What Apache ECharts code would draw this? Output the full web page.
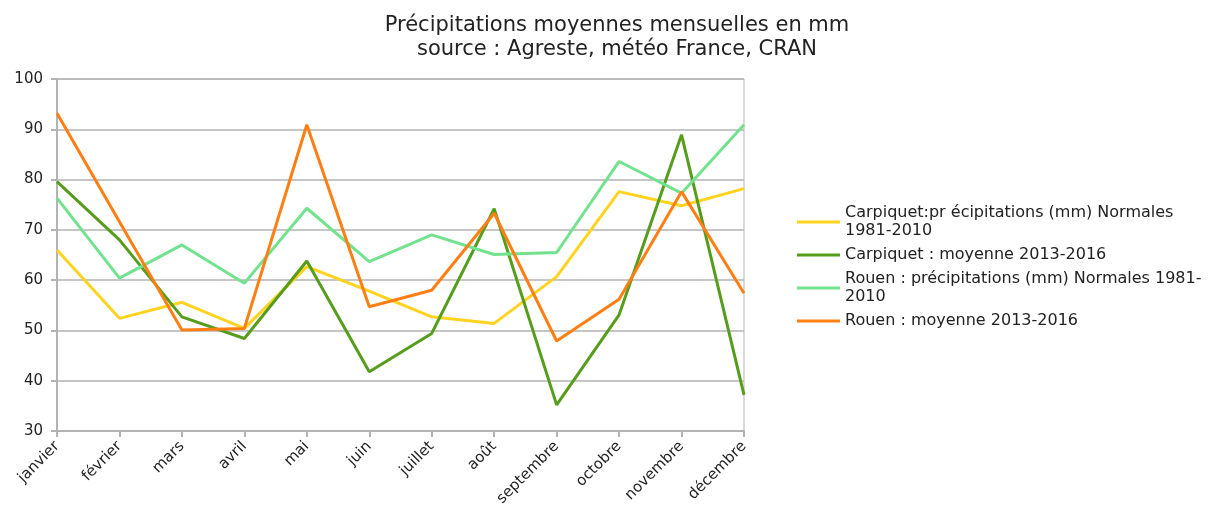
<!DOCTYPE html>
<html>
<head>
<meta charset="utf-8">
<script src="https://cdn.jsdelivr.net/npm/echarts@6/dist/echarts.min.js"></script>
<style>
html,body{margin:0;padding:0;background:#fff;}
#chart{width:1208px;height:513px;}
</style>
</head>
<body>
<div id="chart"></div>
<script>
var mois = ['janvier', 'février', 'mars', 'avril', 'mai', 'juin', 'juillet', 'août', 'septembre', 'octobre', 'novembre', 'décembre'];

// valeurs (mm)
var carpiquetNormales = [66, 52.4, 55.6, 50.4, 62.7, 57.8, 52.7, 51.4, 60.7, 77.6, 74.8, 78.2];
var carpiquetMoyenne = [79.6, 68, 52.7, 48.4, 63.8, 41.8, 49.4, 74.2, 35.2, 53.1, 88.9, 37.2];
var rouenNormales = [76.3, 60.4, 67, 59.4, 74.3, 63.7, 69, 65.1, 65.5, 83.6, 77.3, 90.9];
var rouenMoyenne = [93.2, 71.6, 50.1, 50.4, 90.9, 54.7, 58, 73.3, 47.9, 56.2, 77.6, 57.4];

var noms = [
    'Carpiquet:pr écipitations (mm) Normales 1981-2010',
    'Carpiquet : moyenne 2013-2016',
    'Rouen : précipitations (mm) Normales 1981-2010',
    'Rouen : moyenne 2013-2016'
];
// texte de légende avec retour à la ligne
var libelles = {};
libelles[noms[0]] = 'Carpiquet:pr écipitations (mm) Normales\n1981-2010';
libelles[noms[1]] = 'Carpiquet : moyenne 2013-2016';
libelles[noms[2]] = 'Rouen : précipitations (mm) Normales 1981-\n2010';
libelles[noms[3]] = 'Rouen : moyenne 2013-2016';

var couleurs = ['#ffd320', '#579d1c', '#72e28e', '#ff7f14'];

var myChart = echarts.init(document.getElementById('chart'));

function serie(nom, data, couleur) {
    return {
        name: nom,
        type: 'line',
        symbol: 'none',
        smooth: false,
        lineStyle: { color: couleur, width: 3 },
        itemStyle: { color: couleur },
        data: data
    };
}

var option = {
    animation: false,
    textStyle: { fontFamily: 'DejaVu Sans' },
    title: {
        text: 'Précipitations moyennes mensuelles en mm\nsource : Agreste, météo France, CRAN',
        left: 612,
        textAlign: 'center',
        top: 9,
        textStyle: {
            fontFamily: 'DejaVu Sans',
            fontSize: 21,
            fontWeight: 'normal',
            color: '#222',
            lineHeight: 24
        }
    },
    legend: {
        orient: 'vertical',
        left: 792,
        top: 199,
        itemGap: 6,
        itemWidth: 43,
        itemHeight: 3,
        icon: 'rect',
        data: noms,
        formatter: function (n) { return libelles[n]; },
        textStyle: { fontFamily: 'DejaVu Sans', fontSize: 16, color: '#222', lineHeight: 18, padding: [0, 0, 0, 0] }
    },
    grid: {
        left: 57,
        right: 464,
        top: 79,
        bottom: 82,
        show: true,
        borderColor: '#b3b3b3',
        borderWidth: 1
    },
    xAxis: [{
        type: 'category',
        boundaryGap: false,
        data: mois,
        axisLine: { show: true, lineStyle: { color: '#b3b3b3', width: 2 } },
        axisTick: { show: true, length: 6, interval: 0, lineStyle: { color: '#b3b3b3', width: 2 } },
        axisLabel: {
            interval: 0,
            rotate: 45,
            fontFamily: 'DejaVu Sans',
            fontSize: 15,
            color: '#222',
            margin: 13
        },
        splitLine: { show: false }
    }],
    yAxis: [{
        type: 'value',
        min: 30,
        max: 100,
        interval: 10,
        axisLine: { show: true, lineStyle: { color: '#b3b3b3', width: 2 } },
        axisTick: { show: true, length: 6, lineStyle: { color: '#b3b3b3', width: 2 } },
        axisLabel: { fontFamily: 'DejaVu Sans', fontSize: 15, color: '#222', margin: 14 },
        splitLine: { show: true, lineStyle: { color: '#b3b3b3', width: 1.5 } }
    }],
    series: [
        serie(noms[0], carpiquetNormales, couleurs[0]),
        serie(noms[1], carpiquetMoyenne, couleurs[1]),
        serie(noms[2], rouenNormales, couleurs[2]),
        serie(noms[3], rouenMoyenne, couleurs[3])
    ]
};

myChart.setOption(option);
</script>
</body>
</html>
